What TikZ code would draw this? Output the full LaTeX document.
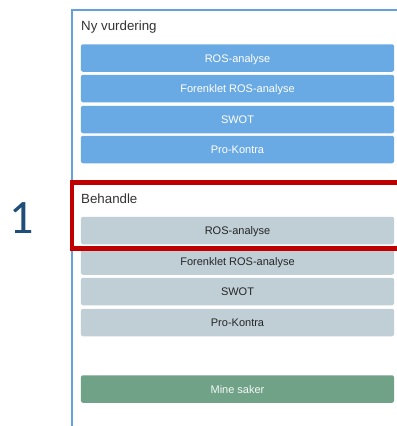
\documentclass[tikz,border=0pt]{standalone}
\usepackage{fontspec}
\setmainfont{Liberation Sans}
\newfontfamily\numfont{Carlito}
\definecolor{btnblue}{RGB}{106,170,228}
\definecolor{btngray}{RGB}{192,206,214}
\definecolor{btngreen}{RGB}{112,162,136}
\definecolor{panelblue}{RGB}{100,160,222}
\definecolor{markred}{RGB}{192,0,0}
\definecolor{numblue}{RGB}{31,78,121}
\definecolor{headgray}{RGB}{51,51,51}
\tikzset{
  btn/.style={rounded corners=2bp, minimum width=313bp, minimum height=27.5bp,
    inner sep=0pt, text height=8bp, text depth=0bp,
    font=\fontsize{11bp}{13bp}\selectfont},
  bluebtn/.style={btn, fill=btnblue, text=white},
  graybtn/.style={btn, fill=btngray, text=black!85},
  greenbtn/.style={btn, fill=btngreen, text=white!92!btngreen},
  head/.style={anchor=base west, inner sep=0pt, text=headgray,
    font=\fontsize{13.3bp}{16bp}\selectfont},
}
\begin{document}
\begin{tikzpicture}[x=1bp,y=-1bp]
\useasboundingbox (0,0) rectangle (397,426);
\clip (0,0) rectangle (397,426);
\fill[white] (0,0) rectangle (397,426);
% panel border
\draw[panelblue, line width=1.6bp] (72,430) -- (72,10) -- (400,10);
% headings
\node[head] (hny) at (81,30) {Ny vurdering};
\node[head] (hbeh) at (81,203) {Behandle};
% blue buttons
\node[bluebtn] (b1) at (237.5,58) {ROS-analyse};
\node[bluebtn] (b2) at (237.5,88.5) {Forenklet ROS-analyse};
\node[bluebtn] (b3) at (237.5,119.5) {SWOT};
\node[bluebtn] (b4) at (237.5,149.5) {Pro-Kontra};
% gray buttons
\node[graybtn] (g1) at (237.5,230.5) {ROS-analyse};
\node[graybtn] (g2) at (237.5,261) {Forenklet ROS-analyse};
\node[graybtn] (g3) at (237.5,291.5) {SWOT};
\node[graybtn] (g4) at (237.5,322.5) {Pro-Kontra};
% green button
\node[greenbtn] (mine) at (237.5,389) {Mine saker};
% red highlight
\draw[markred, line width=4.5bp] (402,182.5) -- (72,182.5) -- (72,248.5) -- (402,248.5);
% number
\node[anchor=base, inner sep=0pt, text=numblue, font=\numfont\fontsize{48bp}{50bp}\selectfont] (num) at (22,233) {1};
\end{tikzpicture}
\end{document}
